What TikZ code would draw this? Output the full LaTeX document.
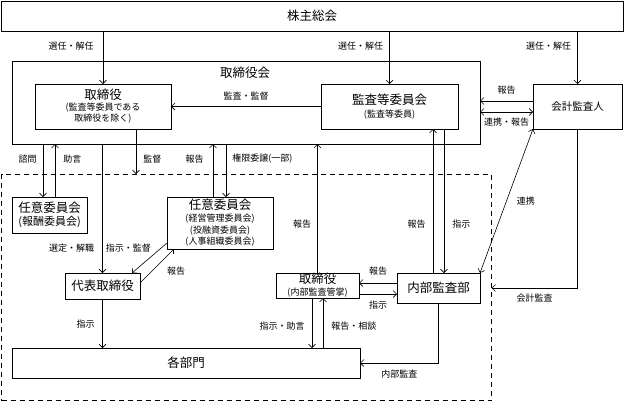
\documentclass[tikz,border=0pt]{standalone}
\usepackage{fontspec}
\setmainfont{Noto Sans CJK JP}
\usetikzlibrary{arrows.meta}
\newcommand{\boxttl}[1]{{\fontsize{12.5}{14}\selectfont #1}}
\newcommand{\boxsub}[1]{{\fontsize{9}{10.5}\selectfont #1}}
\newcommand{\linesp}[1]{\fontsize{9}{#1}\selectfont\lineskiplimit=-20pt}
\begin{document}
\begin{tikzpicture}[x=1pt,y=-1pt,line width=0.6pt,
  >={Straight Barb[length=3.5pt,width=7pt]},
  box/.style={draw, inner sep=0pt, outer sep=0pt, align=center},
  lbl/.style={font=\fontsize{9}{10}\selectfont, inner sep=3pt}]
\useasboundingbox (0,0) rectangle (624,402);
\node[box, minimum width=622pt, minimum height=30pt] (kabu) at (312,16) {\boxttl{株主総会}};
\node[box, minimum width=468pt, minimum height=83pt] (board) at (246,102.5) {};
\node (boardlbl) at (245,73) {\boxttl{取締役会}};
\node[box, minimum width=136pt, minimum height=45pt, font=\linesp{11}] (tori) at (103,106.5) {\boxttl{取締役}\\\boxsub{(監査等委員である}\\\boxsub{取締役を除く)}};
\node[box, minimum width=137pt, minimum height=45pt, font=\linesp{13}] (kansa) at (389.5,106.5) {\boxttl{監査等委員会}\\\boxsub{(監査等委員)}};
\node[box, minimum width=89pt, minimum height=45pt] (kaikei) at (577.5,106.5) {{\fontsize{10.5}{12}\selectfont 会計監査人}};
\node[box, dashed, dash pattern=on 5pt off 4pt, minimum width=490pt, minimum height=226.5pt] (group) at (246.5,287.25) {};
\node[box, minimum width=75pt, minimum height=36pt, font=\linesp{13}] (hoshu) at (49.5,215) {\boxttl{任意委員会}\\{\fontsize{11}{13}\selectfont(報酬委員会)}};
\node[box, minimum width=106pt, minimum height=52pt, font=\linesp{11.7}] (keiei) at (220,223) {\boxttl{任意委員会}\\\boxsub{(経営管理委員会)}\\\boxsub{(投融資委員会)}\\\boxsub{(人事組織委員会)}};
\node[box, minimum width=75pt, minimum height=26pt] (daihyo) at (102.5,286) {\boxttl{代表取締役}};
\node[box, minimum width=83pt, minimum height=25pt, font=\linesp{12}] (naikan) at (317.5,285.5) {\boxttl{取締役}\\\boxsub{(内部監査管掌)}};
\node[box, minimum width=83pt, minimum height=30pt] (naibu) at (438.5,288) {\boxttl{内部監査部}};
\node[box, minimum width=348pt, minimum height=30pt] (kakubu) at (186,363) {\boxttl{各部門}};

\draw[->] (kabu.south -| tori.north) -- node[lbl, pos=0.28, left=6pt]{選任・解任} (tori.north);
\draw[->] (kabu.south -| kansa.north) -- node[lbl, pos=0.28, left=3pt]{選任・解任} (kansa.north);
\draw[->] (kabu.south -| kaikei.north) -- node[lbl, pos=0.28, left=3pt]{選任・解任} (kaikei.north);
\draw[->] (kansa.west) -- node[lbl, above=3pt]{監査・監督} (tori.east);
\draw[->] ([yshift=5.5pt]kaikei.west) -- node[lbl, above=3pt]{報告} ([yshift=5.5pt]kaikei.west -| board.east);
\draw[<->] ([yshift=-5.5pt]kaikei.west) -- node[lbl, below=3pt]{連携・報告} ([yshift=-5.5pt]kaikei.west -| board.east);
\draw[<->] (naibu.north east) -- node[lbl, right=7pt]{連携} (kaikei.south west);
\draw[->] (kaikei.south) |- node[lbl, pos=0.75, below=3pt]{会計監査} (naibu.east -| group.east);

\draw[->] ([xshift=-6.5pt]hoshu.north |- board.south) -- node[lbl, pos=0.28, left=3pt]{諮問} ([xshift=-6.5pt]hoshu.north);
\draw[->] ([xshift=5.5pt]hoshu.north) -- node[lbl, pos=0.72, right=5pt]{助言} ([xshift=5.5pt]hoshu.north |- board.south);
\draw[->] ([xshift=33pt]tori.south) -- node[lbl, pos=0.67, right=4pt]{監督} ([xshift=33pt]tori.south |- group.north);
\draw[->] (board.south -| daihyo.north) -- node[lbl, pos=0.81, left=5pt]{選定・解職} node[lbl, pos=0.81, right=0pt]{指示・監督} (daihyo.north);
\draw[->] ([xshift=-7pt]keiei.north) -- node[lbl, pos=0.72, left=6pt]{報告} ([xshift=-7pt]keiei.north |- board.south);
\draw[->] ([xshift=6pt]keiei.north |- board.south) -- node[lbl, pos=0.28, right=3pt]{権限委譲(一部)} ([xshift=6pt]keiei.north);
\draw[->] (naikan.north) -- node[lbl, pos=0.38, left=3pt]{報告} (naikan.north |- board.south);
\draw[->] ([yshift=6pt]keiei.south west) -- ([xshift=-8pt]daihyo.north east);
\draw[->] ([yshift=3pt]daihyo.east) -- node[lbl, pos=0.35, right=12pt]{報告} ([xshift=7pt]keiei.south west);

\draw[->] (daihyo.south) -- node[lbl, pos=0.51, left=4.5pt]{指示} (daihyo.south |- kakubu.north);
\draw[->] ([xshift=-5.5pt]naikan.south) -- node[lbl, pos=0.56, left=4pt]{指示・助言} ([xshift=-5.5pt]naikan.south |- kakubu.north);
\draw[->] ([xshift=5.5pt]naikan.south |- kakubu.north) -- node[lbl, pos=0.44, right=5pt]{報告・相談} ([xshift=5.5pt]naikan.south);
\draw[->] ([yshift=5pt]naibu.west) -- node[lbl, above=4pt]{報告} ([yshift=5pt]naibu.west -| naikan.east);
\draw[->] ([yshift=-8.5pt]naikan.east) -- node[lbl, below=4pt]{指示} ([yshift=-8.5pt]naikan.east -| naibu.west);
\draw[->] (naibu.south) |- node[lbl, pos=0.75, below=4pt]{内部監査} (kakubu.east);
\draw[->] ([xshift=-5.5pt]naibu.north) -- node[lbl, pos=0.34, left=4pt]{報告} ([xshift=-5.5pt]naibu.north |- kansa.south);
\draw[->] ([xshift=5.5pt]naibu.north |- kansa.south) -- node[lbl, pos=0.66, right=5pt]{指示} ([xshift=5.5pt]naibu.north);
\end{tikzpicture}
\end{document}
